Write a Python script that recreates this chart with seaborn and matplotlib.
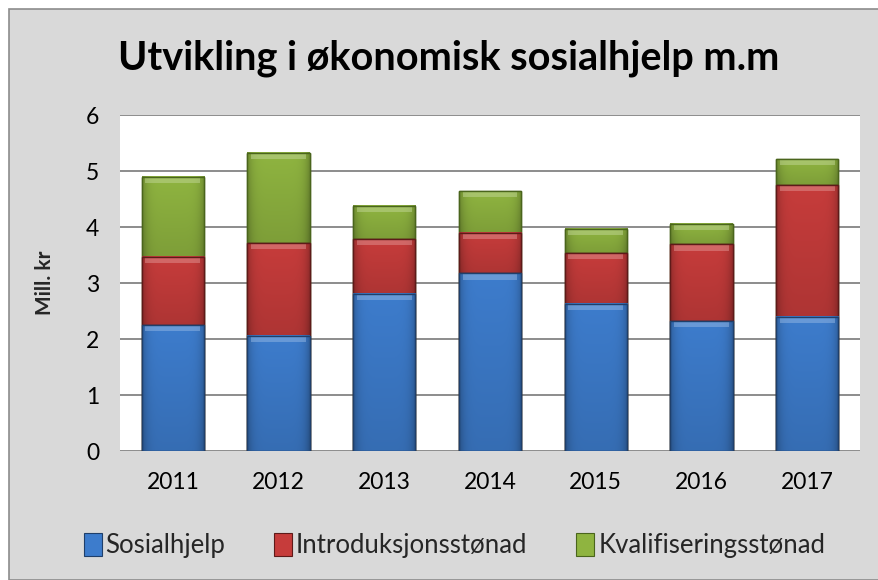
import numpy as np
import pandas as pd
import matplotlib
matplotlib.use("Agg")
import matplotlib.pyplot as plt
from matplotlib.colors import to_rgb
from matplotlib.patches import Rectangle
import seaborn as sns

years = ["2011", "2012", "2013", "2014", "2015", "2016", "2017"]
sosialhjelp = [2.25, 2.06, 2.81, 3.17, 2.63, 2.32, 2.40]
introduksjon = [1.22, 1.66, 0.98, 0.73, 0.90, 1.37, 2.35]
kvalifisering = [1.43, 1.61, 0.59, 0.74, 0.43, 0.36, 0.46]

series = ["Sosialhjelp", "Introduksjonsstønad", "Kvalifiseringsstønad"]
colors = ["#3D7CCC", "#C63C3B", "#8FB440"]
edges = ["#1F3F6A", "#5E1A19", "#4A651C"]

sns.set_style("white")
plt.rcParams["font.family"] = ["Lato", "DejaVu Sans"]

df = pd.DataFrame({"year": years,
                   "s": sosialhjelp,
                   "i": introduksjon,
                   "k": kvalifisering})
df["si"] = df["s"] + df["i"]
df["sik"] = df["si"] + df["k"]

fig = plt.figure(figsize=(8.79, 5.80), dpi=100)
fig.patch.set_facecolor("white")
# grey chart area with border line on left/top
fig.patches.append(Rectangle((9 / 879, 0), 1, 1 - 9 / 580, transform=fig.transFigure,
                             facecolor="#D9D9D9", edgecolor="#8C8C8C", linewidth=1.2,
                             zorder=-10))

ax = fig.add_axes([120 / 879, 1 - 451 / 580, 740 / 879, 336 / 580])
ax.set_facecolor("white")


def shade(c, n=40):
    # darker at the sides and the bottom, like the excel bevel
    rgb = np.array(to_rgb(c))
    xx = np.linspace(-1, 1, n)
    yy = np.linspace(0, 1, n)[:, None]
    f = 1.0 - 0.22 * np.abs(xx) ** 6 - 0.12 * yy
    img = np.clip(rgb[None, None, :] * f[..., None], 0, 1)
    return img


layers = [("sik", "si"), ("si", "s"), ("s", None)]
for z, ((top, low), c, e) in enumerate(zip(layers, colors[::-1], edges[::-1])):
    n_before = len(ax.patches)
    sns.barplot(data=df, x="year", y=top, color=c, width=0.59, ax=ax,
                edgecolor=e, linewidth=1.0, saturation=1, zorder=3 + 2 * z)
    img = shade(c)
    hi = np.array(to_rgb(c)) * 0.55 + 0.45
    for k, p in enumerate(ax.patches[n_before:]):
        x0, w = p.get_x(), p.get_width()
        y1 = df[top].iloc[k]
        y0 = df[low].iloc[k] if low else 0.0
        ax.imshow(img, extent=(x0, x0 + w, y0, y1), aspect="auto",
                  zorder=3.5 + 2 * z, interpolation="bilinear")
        strip = min(0.11, (y1 - y0) * 0.3)
        ax.add_patch(Rectangle((x0 + w * 0.06, y1 - strip), w * 0.88, strip,
                               facecolor=hi, edgecolor="none", alpha=0.5,
                               zorder=3.6 + 2 * z))
        ax.add_patch(Rectangle((x0, y0), w, y1 - y0, facecolor="none",
                               edgecolor=e, linewidth=1.0, zorder=3.7 + 2 * z))

ax.set_ylim(0, 6)
ax.set_xlim(-0.5, 6.5)
ax.set_yticks(range(0, 7))
ax.yaxis.grid(True, color="#8C8C8C", linewidth=1.4, zorder=0)
ax.set_axisbelow(True)
for s in ax.spines.values():
    s.set_visible(False)
ax.tick_params(axis="both", length=0, labelsize=16.5, colors="black")
ax.tick_params(axis="x", pad=15)
ax.tick_params(axis="y", pad=15)
ax.set_xlabel("")
ax.set_ylabel("Mill. kr", fontsize=15, fontweight="bold", labelpad=22)

fig.text(0.51, 0.9, "Utvikling i økonomisk sosialhjelp m.m", ha="center", va="center",
         fontsize=28.5, fontweight="bold", color="black")

handles = [Rectangle((0, 0), 1, 1, facecolor=c, edgecolor=e, linewidth=0.8)
           for c, e in zip(colors, edges)]
fig.legend(handles, series, loc="center", bbox_to_anchor=(0.517, 0.06), ncol=3,
           frameon=False, fontsize=18.5, handlelength=0.7, handleheight=1.0,
           handletextpad=0.15, columnspacing=1.9)

fig.savefig("out.png", dpi=100)
